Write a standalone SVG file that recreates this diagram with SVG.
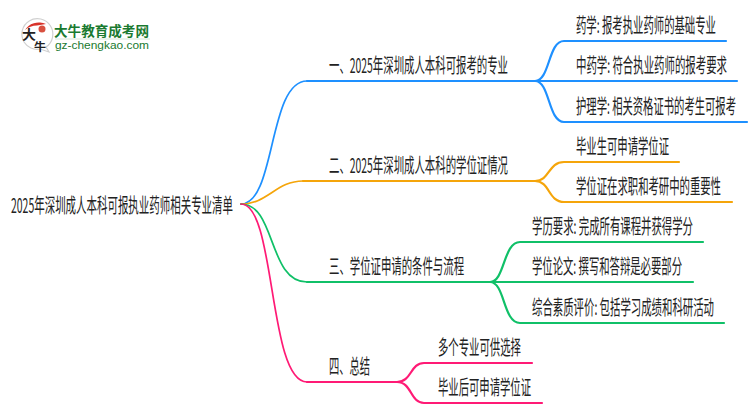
<svg xmlns="http://www.w3.org/2000/svg" width="750" height="410" viewBox="0 0 750 410">
<style>
text{font-family:"Noto Sans CJK SC","Liberation Sans",sans-serif;fill:#222;font-size:20px}
.c{fill:none;stroke-width:2.2;stroke-linecap:round}
.t{stroke-width:1.7}
.b{stroke:#1e90ff}.o{stroke:#f5a50a}.g{stroke:#10c068}.p{stroke:#ff1a75}
</style>
<rect width="750" height="410" fill="#fff"/>
<g id="logo">
<path d="M24 42a15.500 15.500 0 1 1 22 5l3 5-9-3a15.500 15.500 0 0 1-16-7z" fill="#fff" stroke="#d0d0d0" stroke-width="1.2"/>
<path d="M25 30a15 12 0 0 1 21-6l-9 1.500q-7 0-12 4.500z" fill="#d8322a"/>
<circle cx="42" cy="29" r="3.500" fill="#d8503f"/>
<text x="22" y="39" textLength="14" lengthAdjust="spacingAndGlyphs" style="font-size:13px;font-weight:700">大</text>
<text x="34" y="51" textLength="12" lengthAdjust="spacingAndGlyphs" style="font-size:11px;font-weight:700">牛</text>
<text x="54" y="36" textLength="95" lengthAdjust="spacingAndGlyphs" style="font-size:13.500px;font-weight:700;fill:#1a7a30">大牛教育成考网</text>
<rect x="55" y="38.500" width="95" height="1" fill="#d5e5d8"/>
<text x="55" y="49" textLength="94" lengthAdjust="spacingAndGlyphs" style="font-size:10px;font-family:'Liberation Sans',sans-serif;fill:#1a7a30">gz-chengkao.com</text>
</g>
<g id="connectors">
<path class="c t b" d="M241 204C276 204 268 81 307 81"/><path class="c b" d="M307 81H535"/>
<path class="c t o" d="M241 204C268 204 276 181 303 181"/><path class="c o" d="M303 181H535"/>
<path class="c t g" d="M241 204C276 204 268 282 307 282"/><path class="c g" d="M307 282H490"/>
<path class="c t p" d="M241 204C276 204 268 382 307 382"/><path class="c p" d="M307 382H397"/>
<path class="c b" d="M535 81C550 81 548 41 564 41H726"/>
<path class="c b" d="M535 81H737"/>
<path class="c b" d="M535 81C550 81 548 122 564 122H747"/>
<path class="c o" d="M535 181C550 181 548 162 564 162H679"/>
<path class="c o" d="M535 181C550 181 548 202 564 202H732"/>
<path class="c g" d="M490 282C505 282 503 242 520 242H703"/>
<path class="c g" d="M490 282H693"/>
<path class="c g" d="M490 282C505 282 503 323 520 323H724"/>
<path class="c p" d="M397 382C412 382 410 363 424 363H532"/>
<path class="c p" d="M397 382C412 382 410 403 424 403H542"/>
</g>
<g id="root"><text transform="translate(11 213) scale(.55 1)" textLength="403.600" lengthAdjust="spacingAndGlyphs">2025年深圳成人本科可报执业药师相关专业清单</text></g>
<g id="n1"><text transform="translate(329 73) scale(.55 1)" textLength="325.500" lengthAdjust="spacingAndGlyphs">一、2025年深圳成人本科可报考的专业</text></g>
<g id="n2"><text transform="translate(329 173) scale(.55 1)" textLength="325.500" lengthAdjust="spacingAndGlyphs">二、2025年深圳成人本科的学位证情况</text></g>
<g id="n3"><text transform="translate(329 274) scale(.55 1)" textLength="245.500" lengthAdjust="spacingAndGlyphs">三、学位证申请的条件与流程</text></g>
<g id="n4"><text transform="translate(329 374) scale(.55 1)" textLength="74.500" lengthAdjust="spacingAndGlyphs">四、总结</text></g>
<g id="n11"><text transform="translate(576 33) scale(.55 1)" textLength="254.500" lengthAdjust="spacingAndGlyphs">药学: 报考执业药师的基础专业</text></g>
<g id="n12"><text transform="translate(576 73) scale(.55 1)" textLength="274.500" lengthAdjust="spacingAndGlyphs">中药学: 符合执业药师的报考要求</text></g>
<g id="n13"><text transform="translate(576 114) scale(.55 1)" textLength="290.900" lengthAdjust="spacingAndGlyphs">护理学: 相关资格证书的考生可报考</text></g>
<g id="n21"><text transform="translate(576 154) scale(.55 1)" textLength="169.100" lengthAdjust="spacingAndGlyphs">毕业生可申请学位证</text></g>
<g id="n22"><text transform="translate(576 194) scale(.55 1)" textLength="263.600" lengthAdjust="spacingAndGlyphs">学位证在求职和考研中的重要性</text></g>
<g id="n31"><text transform="translate(532 234) scale(.55 1)" textLength="292.700" lengthAdjust="spacingAndGlyphs">学历要求: 完成所有课程并获得学分</text></g>
<g id="n32"><text transform="translate(532 274) scale(.55 1)" textLength="272.700" lengthAdjust="spacingAndGlyphs">学位论文: 撰写和答辩是必要部分</text></g>
<g id="n33"><text transform="translate(532 315) scale(.55 1)" textLength="330.900" lengthAdjust="spacingAndGlyphs">综合素质评价: 包括学习成绩和科研活动</text></g>
<g id="n41"><text transform="translate(438 355) scale(.55 1)" textLength="150.900" lengthAdjust="spacingAndGlyphs">多个专业可供选择</text></g>
<g id="n42"><text transform="translate(438 395) scale(.55 1)" textLength="169.100" lengthAdjust="spacingAndGlyphs">毕业后可申请学位证</text></g>
</svg>
